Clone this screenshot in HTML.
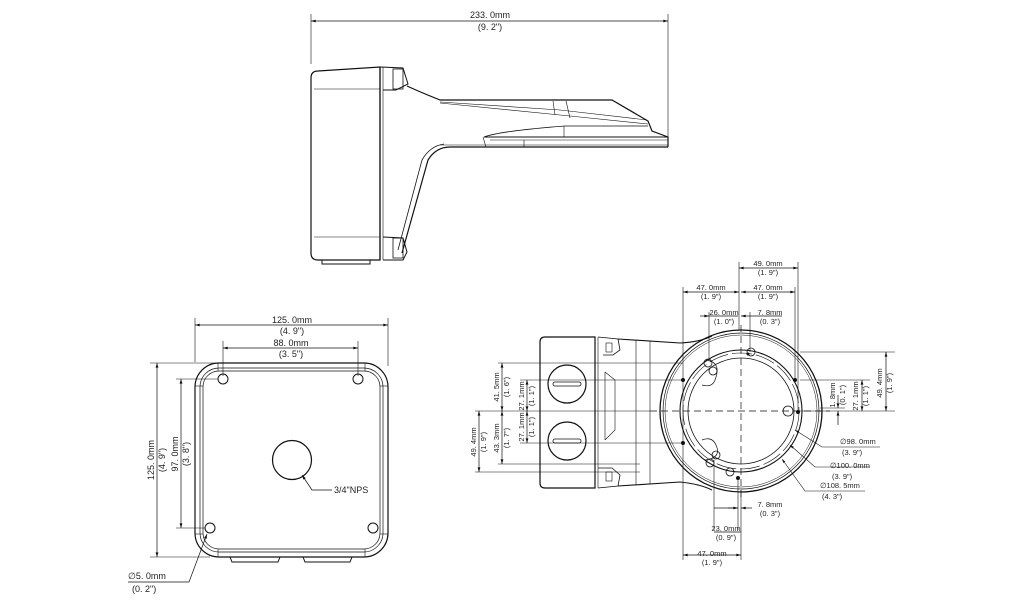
<!DOCTYPE html>
<html><head><meta charset="utf-8"><style>
html,body{margin:0;padding:0;background:#fff}
svg{display:block}
text{font-family:"Liberation Sans",sans-serif;font-size:9px;fill:#222}
.s{font-size:7.5px}
</style></head><body>
<svg width="1024" height="602" viewBox="0 0 1024 602" xmlns="http://www.w3.org/2000/svg">
<defs>
<marker id="a" viewBox="0 0 10 6" refX="10" refY="3" markerWidth="8" markerHeight="4" orient="auto-start-reverse"><path d="M0,0L10,3L0,6z" fill="#111"/></marker>
</defs>
<g fill="none" stroke="#111" stroke-width="1">
<line x1="311" y1="14" x2="311" y2="64" stroke-width="0.6"/>
<line x1="668" y1="14" x2="668" y2="137" stroke-width="0.6"/>
<line x1="311" y1="21" x2="668" y2="21" stroke-width="0.7" marker-start="url(#a)" marker-end="url(#a)"/>
<path d="M318,71 L380,67 L380,260 L318,260 Q311,260 311,253 L311,78 Q311,71 318,71Z" stroke-width="1.2"/>
<line x1="314" y1="89" x2="380" y2="89" stroke-width="0.6"/>
<line x1="314" y1="237" x2="380" y2="237" stroke-width="0.6"/>
<line x1="380" y1="67" x2="380" y2="260" stroke-width="1.2"/>
<line x1="383" y1="67" x2="383" y2="260" stroke-width="0.6"/>
<path d="M380,67 L403,68 L408,84 L396,90 L383,90" stroke-width="1"/>
<rect x="393" y="69" width="10" height="20" stroke-width="0.8"/>
<path d="M383,237 L403,238 L407,252 L403,260 L383,260" stroke-width="1"/>
<rect x="393" y="238" width="10" height="20" stroke-width="0.8"/>
<path d="M322,260 L322,264 L370,264 L370,260" stroke-width="1"/>
<path d="M407,86 Q420,92 440,100 L612,100 L648,121 L652,131 L668,137 L668,147" stroke-width="1.2"/>
<path d="M440,102 L560,110 L647,120" stroke-width="0.6"/>
<path d="M440,103 L570,116 L648,124" stroke-width="0.6"/>
<line x1="553" y1="101" x2="555" y2="115" stroke-width="0.6"/>
<line x1="566" y1="101" x2="570" y2="118" stroke-width="0.6"/>
<path d="M484,137 Q500,131 565,126 L648,126" stroke-width="0.8"/>
<line x1="564" y1="126" x2="564" y2="137" stroke-width="0.6"/>
<line x1="484" y1="137" x2="668" y2="137" stroke-width="1"/>
<line x1="490" y1="140" x2="668" y2="140" stroke-width="0.6"/>
<line x1="440" y1="145" x2="668" y2="145" stroke-width="0.6"/>
<path d="M668,147 L450,147 Q436,147 428,160 L402,253" stroke-width="1.2"/>
<path d="M444,144 Q430,146 422,160 L398,250" stroke-width="0.8"/>
<line x1="483" y1="137" x2="486" y2="147" stroke-width="0.6"/>
<line x1="524" y1="140" x2="524" y2="147" stroke-width="0.6"/>
<line x1="195" y1="318" x2="195" y2="362" stroke-width="0.6"/>
<line x1="388" y1="318" x2="388" y2="366" stroke-width="0.6"/>
<line x1="195" y1="325" x2="388" y2="325" stroke-width="0.7" marker-start="url(#a)" marker-end="url(#a)"/>
<line x1="223" y1="341" x2="223" y2="376" stroke-width="0.6"/>
<line x1="358" y1="341" x2="358" y2="376" stroke-width="0.6"/>
<line x1="223" y1="348" x2="358" y2="348" stroke-width="0.7" marker-start="url(#a)" marker-end="url(#a)"/>
<line x1="150" y1="363" x2="218" y2="363" stroke-width="0.6"/>
<line x1="150" y1="557" x2="210" y2="557" stroke-width="0.6"/>
<line x1="157" y1="363" x2="157" y2="557" stroke-width="0.7" marker-start="url(#a)" marker-end="url(#a)"/>
<line x1="176" y1="379" x2="218" y2="379" stroke-width="0.6"/>
<line x1="176" y1="528" x2="205" y2="528" stroke-width="0.6"/>
<line x1="181" y1="379" x2="181" y2="528" stroke-width="0.7" marker-start="url(#a)" marker-end="url(#a)"/>
<rect x="195" y="363" width="193" height="194" rx="24" stroke-width="1.2"/>
<rect x="200" y="368" width="183" height="184" rx="19" stroke-width="0.7"/>
<rect x="203" y="371" width="177" height="178" rx="16" stroke-width="0.7"/>
<line x1="218" y1="363" x2="218" y2="371" stroke-width="0.6"/>
<line x1="365" y1="363" x2="365" y2="371" stroke-width="0.6"/>
<line x1="195" y1="386" x2="203" y2="386" stroke-width="0.6"/>
<line x1="380" y1="386" x2="388" y2="386" stroke-width="0.6"/>
<line x1="195" y1="534" x2="203" y2="534" stroke-width="0.6"/>
<line x1="380" y1="534" x2="388" y2="534" stroke-width="0.6"/>
<line x1="218" y1="549" x2="218" y2="557" stroke-width="0.6"/>
<line x1="365" y1="549" x2="365" y2="557" stroke-width="0.6"/>
<circle cx="223" cy="379" r="5"/><circle cx="358" cy="379" r="5"/>
<circle cx="210" cy="528" r="5"/><circle cx="373" cy="528" r="5"/>
<circle cx="292" cy="460" r="19.5" stroke-width="1.2"/>
<path d="M230,557 L232,562 L278,562 L280,557 M303,557 L305,562 L350,562 L352,557" stroke-width="1"/>
<path d="M302,475 L312,490 L332,490" stroke-width="0.7" marker-start="url(#a)"/>
<path d="M207,534 L189,582 L128,582" stroke-width="0.7" marker-start="url(#a)"/>
<path d="M545,337 L595,337 L595,488 L545,488 Q540,488 540,483 L540,342 Q540,337 545,337Z" stroke-width="1.2"/>
<line x1="595" y1="337" x2="595" y2="488" stroke-width="1"/>
<line x1="598" y1="337" x2="598" y2="488" stroke-width="0.6"/>
<path d="M598,337 L618,339 L620,350 L613,355 L603,355 M598,468 L612,468 L620,475 L618,486 L598,488" stroke-width="0.8"/>
<rect x="606" y="343" width="6" height="9" stroke-width="0.6"/>
<rect x="606" y="472" width="6" height="9" stroke-width="0.6"/>
<path d="M605,372 L615,380 L615,430 L605,440 M605,372 L605,440" stroke-width="0.6"/>
<path d="M618,339 L680,343 Q700,342 712,336" stroke-width="1.1"/>
<path d="M618,486 L680,482 Q700,484 712,490" stroke-width="1.1"/>
<line x1="636" y1="340" x2="636" y2="485" stroke-width="0.6"/>
<line x1="650" y1="341" x2="650" y2="484" stroke-width="0.6"/>
<circle cx="567" cy="384" r="19" stroke-width="1.2"/>
<circle cx="567" cy="441" r="19" stroke-width="1.2"/>
<rect x="553" y="382" width="28" height="4" rx="2" stroke-width="0.8"/>
<rect x="553" y="439" width="28" height="4" rx="2" stroke-width="0.8"/>
<circle cx="741" cy="411" r="81" stroke-width="1.3"/>
<circle cx="741" cy="411" r="78" stroke-width="0.7"/>
<circle cx="741" cy="411" r="76" stroke-width="0.5"/>
<circle cx="741" cy="411" r="61" stroke-width="1.1"/>
<circle cx="741" cy="411" r="58" stroke-width="0.6" stroke-dasharray="20 4"/>
<circle cx="741" cy="411" r="53" stroke-width="0.8"/>
<path d="M706,360 Q722,362 715,380 Q712,388 702,385 M705,460 Q722,458 716,445 Q712,436 702,440" stroke-width="0.7"/>
<g stroke-width="0.8">
<circle cx="708" cy="363" r="4"/><circle cx="713" cy="371" r="4"/>
<circle cx="751" cy="352" r="4"/><circle cx="788" cy="411" r="5"/>
<circle cx="716" cy="455" r="4"/><circle cx="710" cy="463" r="4"/>
<circle cx="730" cy="472" r="4"/>
</g>
<g fill="#111" stroke="none">
<circle cx="683" cy="380" r="2"/><circle cx="795" cy="380" r="2"/>
<circle cx="683" cy="443" r="2"/><circle cx="738" cy="478" r="2"/>
<circle cx="798" cy="412" r="2"/><circle cx="748" cy="354" r="1.5"/>
</g>
<line x1="650" y1="411" x2="830" y2="411" stroke-width="0.7" stroke-dasharray="7 4"/>
<line x1="741" y1="325" x2="741" y2="500" stroke-width="0.7" stroke-dasharray="7 4"/>
<g stroke-width="0.6">
<line x1="683" y1="287" x2="683" y2="560"/>
<line x1="795" y1="287" x2="795" y2="380"/>
<line x1="739" y1="262" x2="739" y2="330"/>
<line x1="798" y1="262" x2="798" y2="412"/>
<line x1="709" y1="312" x2="709" y2="360"/>
<line x1="750" y1="312" x2="750" y2="352"/>
<line x1="714" y1="460" x2="714" y2="530"/>
<line x1="738" y1="478" x2="738" y2="530"/>
<line x1="741" y1="490" x2="741" y2="560"/>
</g>
<g stroke-width="0.7">
<line x1="739" y1="268" x2="798" y2="268" marker-start="url(#a)" marker-end="url(#a)"/>
<line x1="683" y1="292" x2="739" y2="292" marker-start="url(#a)" marker-end="url(#a)"/>
<line x1="741" y1="292" x2="795" y2="292" marker-start="url(#a)" marker-end="url(#a)"/>
<line x1="700" y1="316" x2="709" y2="316" marker-end="url(#a)"/>
<line x1="709" y1="316" x2="738" y2="316"/>
<line x1="741" y1="316" x2="750" y2="316" marker-start="url(#a)"/>
<line x1="750" y1="316" x2="782" y2="316"/>
<line x1="714" y1="508" x2="738" y2="508"/>
<line x1="728" y1="508" x2="738" y2="508" marker-end="url(#a)"/>
<line x1="741" y1="508" x2="752" y2="508" marker-start="url(#a)"/>
<line x1="683" y1="555" x2="741" y2="555" marker-start="url(#a)" marker-end="url(#a)"/>
<line x1="714" y1="532" x2="741" y2="532"/>
</g>
<g stroke-width="0.6">
<line x1="800" y1="352" x2="895" y2="352"/>
<line x1="800" y1="380" x2="870" y2="380"/>
<line x1="800" y1="411" x2="895" y2="411"/>
<line x1="820" y1="408" x2="845" y2="408"/>
</g>
<g stroke-width="0.7">
<line x1="886" y1="352" x2="886" y2="411" marker-start="url(#a)" marker-end="url(#a)"/>
<line x1="862" y1="380" x2="862" y2="411" marker-start="url(#a)" marker-end="url(#a)"/>
<line x1="838" y1="395" x2="838" y2="408" marker-end="url(#a)"/>
<line x1="838" y1="425" x2="838" y2="411" marker-end="url(#a)"/>
</g>
<g stroke-width="0.6">
<line x1="498" y1="363" x2="683" y2="363"/>
<line x1="520" y1="380" x2="683" y2="380"/>
<line x1="475" y1="411" x2="650" y2="411"/>
<line x1="520" y1="443" x2="683" y2="443"/>
<line x1="498" y1="464" x2="640" y2="464"/>
<line x1="475" y1="472" x2="640" y2="472"/>
</g>
<g stroke-width="0.7">
<line x1="502" y1="363" x2="502" y2="411" marker-start="url(#a)" marker-end="url(#a)"/>
<line x1="502" y1="411" x2="502" y2="464" marker-start="url(#a)" marker-end="url(#a)"/>
<line x1="527" y1="380" x2="527" y2="411" marker-start="url(#a)" marker-end="url(#a)"/>
<line x1="527" y1="411" x2="527" y2="443" marker-start="url(#a)" marker-end="url(#a)"/>
<line x1="479" y1="411" x2="479" y2="472" marker-start="url(#a)" marker-end="url(#a)"/>
</g>
<path d="M795,430 L822,447 L880,447" stroke-width="0.6" marker-start="url(#a)"/>
<path d="M790,445 L815,467 L870,467" stroke-width="0.6" marker-start="url(#a)"/>
<path d="M782,459 L805,491 L865,491" stroke-width="0.6" marker-start="url(#a)"/>
</g>
<text x="490" y="18" text-anchor="middle">233. 0mm</text>
<text x="490" y="30" text-anchor="middle">(9. 2")</text>
<text x="292" y="323" text-anchor="middle">125. 0mm</text>
<text x="292" y="334" text-anchor="middle">(4. 9")</text>
<text x="291" y="346" text-anchor="middle">88. 0mm</text>
<text x="291" y="357" text-anchor="middle">(3. 5")</text>
<text x="334" y="493">3/4"NPS</text>
<text x="128" y="579">∅5. 0mm</text>
<text x="132" y="592">(0. 2")</text>
<text transform="translate(154,460) rotate(-90)" text-anchor="middle">125. 0mm</text>
<text transform="translate(165,460) rotate(-90)" text-anchor="middle">(4. 9")</text>
<text transform="translate(178,454) rotate(-90)" text-anchor="middle">97. 0mm</text>
<text transform="translate(189,454) rotate(-90)" text-anchor="middle">(3. 8")</text>
<g>
<text class="s" x="768" y="266" text-anchor="middle">49. 0mm</text>
<text class="s" x="768" y="275" text-anchor="middle">(1. 9")</text>
<text class="s" x="711" y="290" text-anchor="middle">47. 0mm</text>
<text class="s" x="711" y="299" text-anchor="middle">(1. 9")</text>
<text class="s" x="768" y="290" text-anchor="middle">47. 0mm</text>
<text class="s" x="768" y="299" text-anchor="middle">(1. 9")</text>
<text class="s" x="724" y="315" text-anchor="middle">26. 0mm</text>
<text class="s" x="724" y="324" text-anchor="middle">(1. 0")</text>
<text class="s" x="770" y="315" text-anchor="middle">7. 8mm</text>
<text class="s" x="770" y="324" text-anchor="middle">(0. 3")</text>
<text class="s" x="770" y="507" text-anchor="middle">7. 8mm</text>
<text class="s" x="770" y="516" text-anchor="middle">(0. 3")</text>
<text class="s" x="726" y="531" text-anchor="middle">23. 0mm</text>
<text class="s" x="726" y="540" text-anchor="middle">(0. 9")</text>
<text class="s" x="712" y="556" text-anchor="middle">47. 0mm</text>
<text class="s" x="712" y="565" text-anchor="middle">(1. 9")</text>
<text class="s" x="840" y="444">∅98. 0mm</text>
<text class="s" x="842" y="455">(3. 9")</text>
<text class="s" x="830" y="468">∅100. 0mm</text>
<text class="s" x="832" y="479">(3. 9")</text>
<text class="s" x="820" y="488">∅108. 5mm</text>
<text class="s" x="822" y="499">(4. 3")</text>
<text class="s" transform="translate(882,383) rotate(-90)" text-anchor="middle">49. 4mm</text>
<text class="s" transform="translate(892,383) rotate(-90)" text-anchor="middle">(1. 9")</text>
<text class="s" transform="translate(858,396) rotate(-90)" text-anchor="middle">27. 1mm</text>
<text class="s" transform="translate(868,396) rotate(-90)" text-anchor="middle">(1. 1")</text>
<text class="s" transform="translate(835,395) rotate(-90)" text-anchor="middle">1. 8mm</text>
<text class="s" transform="translate(845,395) rotate(-90)" text-anchor="middle">(0. 1")</text>
<text class="s" transform="translate(499,387) rotate(-90)" text-anchor="middle">41. 5mm</text>
<text class="s" transform="translate(509,387) rotate(-90)" text-anchor="middle">(1. 6")</text>
<text class="s" transform="translate(499,438) rotate(-90)" text-anchor="middle">43. 3mm</text>
<text class="s" transform="translate(509,438) rotate(-90)" text-anchor="middle">(1. 7")</text>
<text class="s" transform="translate(524,396) rotate(-90)" text-anchor="middle">27. 1mm</text>
<text class="s" transform="translate(534,396) rotate(-90)" text-anchor="middle">(1. 1")</text>
<text class="s" transform="translate(524,427) rotate(-90)" text-anchor="middle">27. 1mm</text>
<text class="s" transform="translate(534,427) rotate(-90)" text-anchor="middle">(1. 1")</text>
<text class="s" transform="translate(476,442) rotate(-90)" text-anchor="middle">49. 4mm</text>
<text class="s" transform="translate(486,442) rotate(-90)" text-anchor="middle">(1. 9")</text>
</g>
</svg>
</body></html>
